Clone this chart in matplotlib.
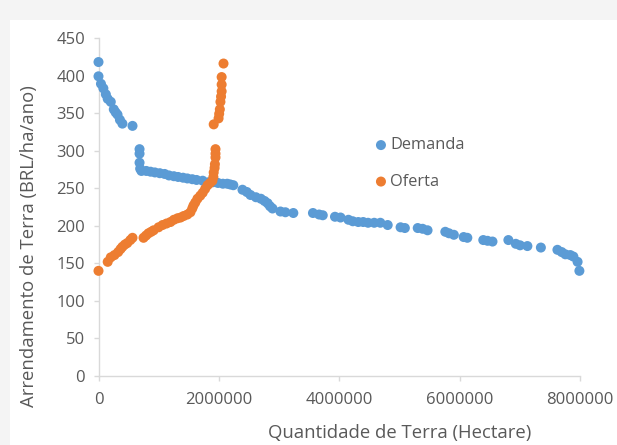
import matplotlib.pyplot as plt
from matplotlib.patches import Rectangle

# Demanda (hectares, BRL/ha/ano)
demanda_x = [0, 0, 41000, 81000, 122000, 153000, 204000, 254000, 285000, 316000,
             356000, 397000, 565000,
             682000, 682000, 682000, 692000,
             713000, 794000, 865000, 937000, 1018000, 1099000, 1171000, 1252000,
             1323000, 1405000, 1476000, 1558000, 1629000, 1731000, 1832000,
             1904000, 1985000, 2067000, 2138000, 2189000, 2240000,
             2392000, 2464000, 2525000, 2616000, 2698000, 2759000, 2810000,
             2850000, 2891000, 3023000, 3105000, 3237000,
             3563000, 3665000, 3726000, 3929000, 4021000,
             4153000, 4225000, 4316000, 4398000, 4479000, 4581000, 4683000,
             4805000, 5019000, 5090000, 5304000, 5385000, 5467000,
             5762000, 5823000, 5904000, 6067000, 6128000,
             6393000, 6464000, 6546000, 6810000, 6933000, 7004000,
             7126000, 7350000, 7625000, 7696000, 7757000, 7839000, 7890000,
             7960000, 7990000]
demanda_y = [418, 399, 389, 383, 375, 369, 365, 355, 351, 348,
             341, 336, 333,
             302, 296, 284, 276,
             273, 273, 272, 271, 270, 269, 267, 266,
             265, 264, 263, 262, 261, 260, 258,
             258, 257, 256, 256, 255, 254,
             248, 245, 241, 238, 236, 233, 230,
             226, 223, 219, 218, 217,
             217, 215, 214, 212, 211,
             208, 206, 205, 205, 204, 204, 204,
             201, 198, 197, 197, 196, 194,
             192, 190, 188, 185, 184,
             181, 180, 179, 181, 176, 174,
             173, 171, 168, 165, 162, 161, 159,
             152, 140]

# Oferta (hectares, BRL/ha/ano)
oferta_x = [0, 153000, 204000, 265000, 326000, 366000, 397000, 438000, 478000,
            529000, 565000,
            748000, 789000, 830000, 875000, 916000, 998000, 1064000, 1130000,
            1196000, 1252000, 1313000, 1364000, 1415000, 1476000, 1527000,
            1558000, 1578000, 1608000, 1644000, 1690000, 1731000, 1771000,
            1812000, 1853000, 1893000, 1909000, 1914000, 1929000, 1934000,
            1944000, 1944000, 1944000,
            1914000, 1995000, 2005000, 2016000, 2026000, 2036000, 2046000,
            2046000, 2046000, 2077000]
oferta_y = [140, 152, 158, 161, 165, 169, 172, 175, 177,
            181, 184,
            184, 187, 190, 192, 194, 198, 201, 203,
            205, 208, 210, 211, 213, 215, 218,
            223, 227, 231, 236, 240, 244, 249,
            254, 257, 260, 265, 271, 277, 282,
            291, 296, 302,
            335, 343, 349, 355, 365, 372, 379,
            388, 398, 416]

x_ticks = [0, 2000000, 4000000, 6000000, 8000000]
y_ticks = list(range(0, 451, 50))

blue = '#5b9bd5'
orange = '#ed7d31'
grey = '#595959'
axis_grey = '#d9d9d9'

plt.rcParams['font.family'] = ['Open Sans', 'DejaVu Sans']

W, H = 617, 445
fig = plt.figure(figsize=(W / 100, H / 100), dpi=100)
fig.patch.set_facecolor('#f4f4f4')
fig.add_artist(Rectangle((10 / W, 0), 1, 1 - 20 / H,
                         transform=fig.transFigure, facecolor='white',
                         edgecolor='none', zorder=0))

# plot area in pixels: x 98.5..580, y 38..376
ax = fig.add_axes([98.5 / W, 1 - 376 / H, 481.5 / W, 338 / H])
ax.set_facecolor('none')

ax.scatter(demanda_x, demanda_y, s=52, color=blue, label='Demanda',
           edgecolors='none', zorder=3, clip_on=False)
ax.scatter(oferta_x, oferta_y, s=52, color=orange, label='Oferta',
           edgecolors='none', zorder=3, clip_on=False)

ax.set_xlim(0, 8000000)
ax.set_ylim(0, 450)
ax.set_xticks(x_ticks)
ax.set_xticklabels([str(t) for t in x_ticks])
ax.set_yticks(y_ticks)

for side in ['top', 'right']:
    ax.spines[side].set_visible(False)
for side in ['left', 'bottom']:
    ax.spines[side].set_color(axis_grey)
    ax.spines[side].set_linewidth(1.0)

ax.tick_params(axis='both', colors=axis_grey, labelcolor=grey,
               labelsize=12, length=3.6, width=1.0)
ax.tick_params(axis='x', pad=8)
ax.tick_params(axis='y', pad=6)

ax.set_xlabel('Quantidade de Terra (Hectare)', fontsize=13.3, color=grey,
              va='center')
ax.xaxis.set_label_coords(0.626, -0.169)
ax.set_ylabel('Arrendamento de Terra (BRL/ha/ano)', fontsize=13.3, color=grey,
              va='center')
ax.yaxis.set_label_coords(-0.144, 0.385)

leg = ax.legend(loc='upper left', bbox_to_anchor=(0.573, 0.706), frameon=False,
                handlelength=0.8, handletextpad=0.15, labelspacing=1.25,
                fontsize=11.8, borderpad=0, borderaxespad=0)
for t in leg.get_texts():
    t.set_color(grey)

fig.savefig('out.png', dpi=100, facecolor=fig.get_facecolor())
